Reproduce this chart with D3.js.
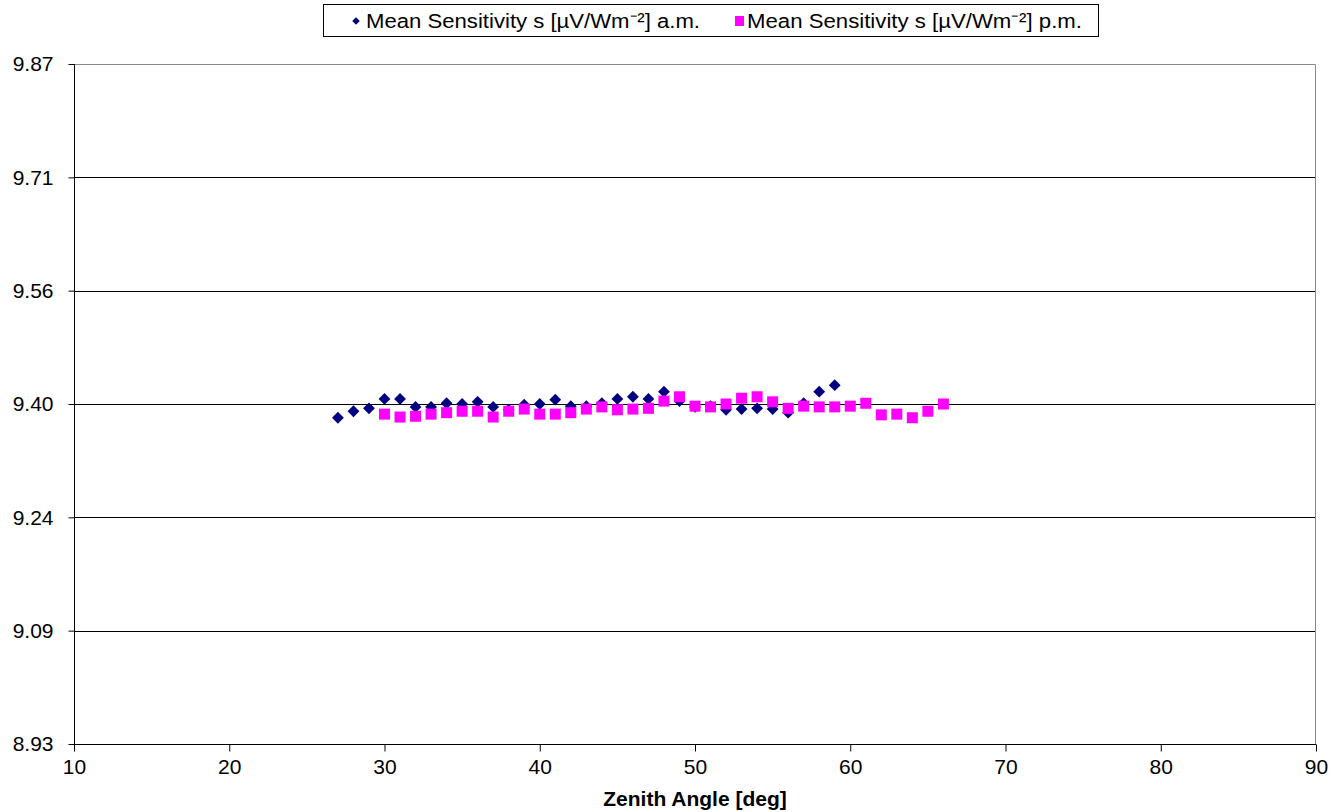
<!DOCTYPE html>
<html>
<head>
<meta charset="utf-8">
<style>
    body { margin: 0; background: #fff; }
    svg { display: block; font-family: Arial, "Liberation Sans", sans-serif; }
    .tick text { font-size: 21px; fill: #000; }
    .tick line { stroke: #000; }
    .domain { display: none; }
    .grid line { stroke: #000; stroke-width: 1; }
    .axis-title { font-size: 21px; font-weight: bold; }
    .legend text { font-size: 20px; }
</style>
</head>
<body>
<svg width="1332" height="812"></svg>
<script src="https://d3js.org/d3.v7.min.js"></script>
<script>
    // zenith angle (deg) and mean sensitivity values
    let amAngles = [27, 28, 29, 30, 31, 32, 33, 34, 35, 36, 37, 38, 39, 40, 41, 42, 43,
                    44, 45, 46, 47, 48, 49, 50, 51, 52, 53, 54, 55, 56, 57, 58, 59]
    let amValues = [9.381, 9.390, 9.394, 9.407, 9.407, 9.396, 9.396, 9.401, 9.400, 9.403, 9.396,
                    9.392, 9.399, 9.400, 9.406, 9.397, 9.397, 9.401, 9.407, 9.410, 9.407, 9.417,
                    9.404, 9.396, 9.397, 9.392, 9.393, 9.394, 9.393, 9.388, 9.401, 9.417, 9.426]

    let pmAngles = [30, 31, 32, 33, 34, 35, 36, 37, 38, 39, 40, 41, 42, 43, 44, 45, 46, 47, 48,
                    49, 50, 51, 52, 53, 54, 55, 56, 57, 58, 59, 60, 61, 62, 63, 64, 65, 66]
    let pmValues = [9.386, 9.382, 9.383, 9.386, 9.388, 9.390, 9.390, 9.382, 9.390, 9.393, 9.386,
                    9.386, 9.388, 9.393, 9.396, 9.392, 9.393, 9.394, 9.404, 9.410, 9.397, 9.396,
                    9.400, 9.408, 9.410, 9.403, 9.394, 9.397, 9.396, 9.396, 9.397, 9.401, 9.385,
                    9.386, 9.381, 9.390, 9.400]

    let xTicks = [10, 20, 30, 40, 50, 60, 70, 80, 90]
    let yTicks = [8.93, 9.0867, 9.2433, 9.40, 9.5567, 9.7133, 9.87]

    let seriesNames = ["Mean Sensitivity s [\u00b5V/Wm\u207b\u00b2] a.m.",
                       "Mean Sensitivity s [\u00b5V/Wm\u207b\u00b2] p.m."]

    let margin = { top: 64, right: 16, bottom: 68, left: 74 }
    let width = 1332, height = 812

    let svg = d3.select("svg")

    let x = d3.scaleLinear()
        .domain([10, 90])
        .range([margin.left, width - margin.right])

    let y = d3.scaleLinear()
        .domain([8.93, 9.87])
        .range([height - margin.bottom, margin.top])

    // gridlines
    svg.append("g")
        .attr("class", "grid")
        .selectAll("line")
        .data(yTicks.slice(1, -1))
        .join("line")
        .attr("x1", x(10))
        .attr("x2", x(90))
        .attr("y1", d => Math.round(y(d)) + 0.5)
        .attr("y2", d => Math.round(y(d)) + 0.5)

    // plot frame: grey top and right
    svg.append("path")
        .attr("d", `M${x(10)},${y(9.87) + 0.5}H${x(90) - 0.5}V${y(8.93)}`)
        .attr("fill", "none")
        .attr("stroke", "#888")

    let xAxis = svg.append("g")
        .attr("class", "x axis")
        .attr("transform", `translate(0,${Math.round(y(8.93)) + 0.5})`)
        .call(d3.axisBottom(x).tickValues(xTicks).tickSize(7).tickPadding(8).tickFormat(d3.format("d")))
    xAxis.append("line")
        .attr("x1", x(10)).attr("x2", x(90))
        .attr("stroke", "#000")

    let yAxis = svg.append("g")
        .attr("class", "y axis")
        .attr("transform", `translate(${x(10) + 0.5},0)`)
        .call(d3.axisLeft(y).tickValues(yTicks).tickSize(6).tickPadding(15).tickFormat(d3.format(".2f")))
    yAxis.append("line")
        .attr("y1", y(9.87)).attr("y2", y(8.93))
        .attr("stroke", "#000")

    svg.append("text")
        .attr("class", "axis-title")
        .attr("x", (x(10) + x(90)) / 2)
        .attr("y", 806)
        .attr("text-anchor", "middle")
        .text("Zenith Angle [deg]")

    let amData = amAngles.map((a, i) => ({ a: a, v: amValues[i] }))
    let pmData = pmAngles.map((a, i) => ({ a: a, v: pmValues[i] }))

    // Excel style diamond: square turned 45 degrees
    let diamond = d3.symbol().type(d3.symbolSquare).size(70)

    svg.append("g")
        .selectAll("path")
        .data(amData)
        .join("path")
        .attr("d", diamond)
        .attr("transform", d => `translate(${x(d.a)},${y(d.v)}) rotate(45)`)
        .attr("fill", "#000080")

    svg.append("g")
        .selectAll("rect")
        .data(pmData)
        .join("rect")
        .attr("x", d => x(d.a) - 5.5)
        .attr("y", d => y(d.v) - 5.5)
        .attr("width", 11)
        .attr("height", 11)
        .attr("fill", "#ff00ff")

    // legend
    let legend = svg.append("g").attr("class", "legend")
    legend.append("rect")
        .attr("x", 323.5).attr("y", 4.5)
        .attr("width", 775).attr("height", 32)
        .attr("fill", "#fff").attr("stroke", "#000")
    legend.append("path")
        .attr("d", d3.symbol().type(d3.symbolSquare).size(28))
        .attr("transform", "translate(356,21) rotate(45)")
        .attr("fill", "#000080")
    legend.append("text")
        .attr("x", 366).attr("y", 28)
        .attr("textLength", 334).attr("lengthAdjust", "spacingAndGlyphs")
        .text(seriesNames[0])
    legend.append("rect")
        .attr("x", 735).attr("y", 16)
        .attr("width", 9).attr("height", 10)
        .attr("fill", "#ff00ff")
    legend.append("text")
        .attr("x", 747).attr("y", 28)
        .attr("textLength", 335).attr("lengthAdjust", "spacingAndGlyphs")
        .text(seriesNames[1])
</script>
</body>
</html>
